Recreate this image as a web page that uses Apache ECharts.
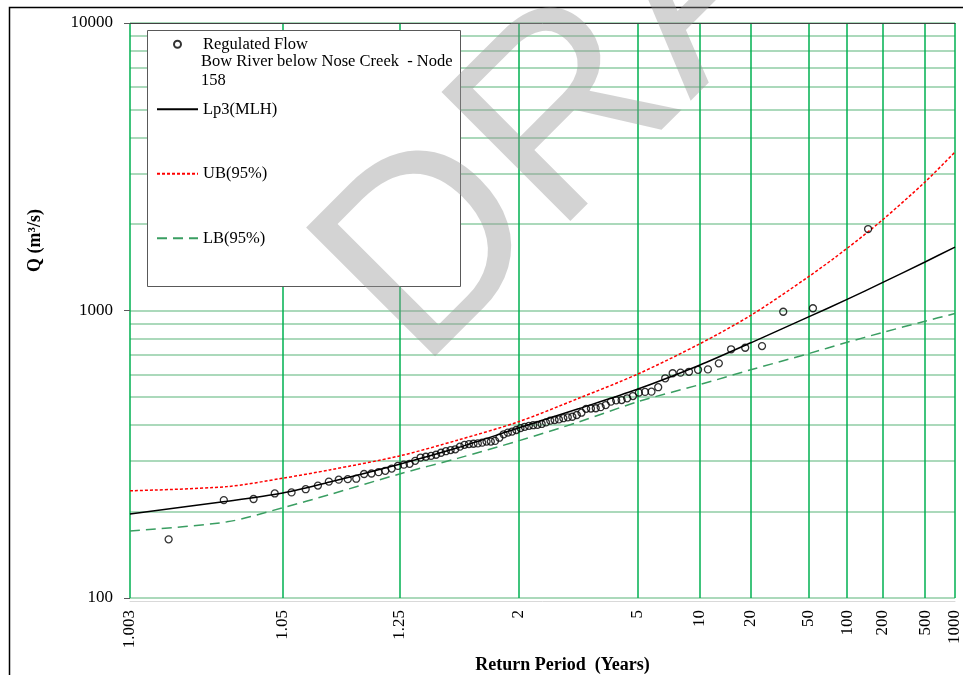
<!DOCTYPE html>
<html><head><meta charset="utf-8">
<script src="https://cdn.jsdelivr.net/npm/echarts@6/dist/echarts.min.js"></script>
<style>html,body{margin:0;padding:0;background:#fff}#chart{width:963px;height:675px}</style>
</head><body><div id="chart"></div>
<script>
// ---- data ----
const xTickPeriods = [1.003, 1.05, 1.25, 2, 5, 10, 20, 50, 100, 200, 500, 1000];
const xTickLabels = ['1.003', '1.05', '1.25', '2', '5', '10', '20', '50', '100', '200', '500', '1000'];
const yLabelValues = [100, 1000, 10000];
const yGridValues = [100, 200, 300, 400, 500, 600, 700, 800, 900, 1000, 2000, 3000, 4000, 5000, 6000, 7000, 8000, 9000, 10000];

// observed regulated flow: return period (years) and discharge (m3/s)
const flowT = [150.21, 53.923, 32.859, 23.629, 18.447, 15.129, 12.823, 11.127, 9.827, 8.799,
  7.966, 7.277, 6.697, 6.204, 5.777, 5.406, 5.080, 4.790, 4.532, 4.301,
  4.091, 3.902, 3.729, 3.570, 3.425, 3.291, 3.167, 3.052, 2.945, 2.846,
  2.753, 2.665, 2.584, 2.507, 2.434, 2.366, 2.301, 2.240, 2.182, 2.126,
  2.074, 2.024, 1.9765, 1.9311, 1.8878, 1.8464, 1.8067, 1.7687, 1.7323, 1.6973,
  1.6638, 1.6315, 1.6005, 1.5706, 1.5418, 1.5140, 1.4873, 1.4614, 1.4365, 1.4124,
  1.3890, 1.3665, 1.3446, 1.3235, 1.3030, 1.2831, 1.2638, 1.2451, 1.2270, 1.2093,
  1.1922, 1.1755, 1.1593, 1.1436, 1.1282, 1.1133, 1.0988, 1.0846, 1.0708, 1.0573,
  1.0442, 1.0314, 1.0189, 1.0067];
const flowQ = [1920, 1018, 990, 752, 742, 733, 655, 624, 622, 612,
  608, 605, 581, 541, 522, 521, 518, 504, 495, 488,
  487, 482, 469, 461, 457, 456, 455, 441, 433, 427,
  425, 422, 418, 416, 414, 408, 403, 400, 399, 397,
  394, 390, 384, 379, 376, 371, 361, 352, 350, 350,
  347, 345, 344, 343, 341, 336, 329, 327, 324, 320,
  315, 312, 310, 308, 300, 293, 291, 288, 282, 277,
  274, 271, 270, 260, 259, 258, 254, 246, 239, 233,
  231, 221, 219, 160];

// fitted curves
const curveT = [1.003, 1.02, 1.05, 1.1, 1.25, 1.5, 2, 3, 5, 10, 20, 50, 100, 200, 500, 1000];
const lp3Q = [196, 217, 232, 253, 292, 333, 390, 456, 532, 645, 772, 950, 1093, 1250, 1475, 1662];
const ubQ  = [236, 244, 261, 279, 312, 354, 410, 496, 600, 765, 962, 1311, 1645, 2064, 2800, 3558];
const lbQ  = [171, 184, 206, 229, 270, 306, 352, 410, 481, 552, 622, 708, 775, 838, 918, 976];

// ---- normal probability scale for return period ----
function normInv(p) {
  const a = [-3.969683028665376e+01, 2.209460984245205e+02, -2.759285104469687e+02, 1.383577518672690e+02, -3.066479806614716e+01, 2.506628277459239e+00];
  const b = [-5.447609879822406e+01, 1.615858368580409e+02, -1.556989798598866e+02, 6.680131188771972e+01, -1.328068155288572e+01];
  const c = [-7.784894002430293e-03, -3.223964580411365e-01, -2.400758277161838e+00, -2.549732539343734e+00, 4.374664141464968e+00, 2.938163982698783e+00];
  const d = [7.784695709041462e-03, 3.224671290700398e-01, 2.445134137142996e+00, 3.754408661907416e+00];
  const pl = 0.02425, ph = 1 - pl;
  let q, r;
  if (p < pl) {
    q = Math.sqrt(-2 * Math.log(p));
    return (((((c[0]*q+c[1])*q+c[2])*q+c[3])*q+c[4])*q+c[5]) / ((((d[0]*q+d[1])*q+d[2])*q+d[3])*q+1);
  }
  if (p <= ph) {
    q = p - 0.5; r = q * q;
    return (((((a[0]*r+a[1])*r+a[2])*r+a[3])*r+a[4])*r+a[5])*q / (((((b[0]*r+b[1])*r+b[2])*r+b[3])*r+b[4])*r+1);
  }
  q = Math.sqrt(-2 * Math.log(1 - p));
  return -(((((c[0]*q+c[1])*q+c[2])*q+c[3])*q+c[4])*q+c[5]) / ((((d[0]*q+d[1])*q+d[2])*q+d[3])*q+1);
}
const zOfT = T => normInv(1 - 1 / T);
const xTickZ = xTickPeriods.map(zOfT);
const zMin = xTickZ[0], zMax = xTickZ[xTickZ.length - 1];
function xLabel(v) {
  let best = 0;
  for (let i = 1; i < xTickZ.length; i++) if (Math.abs(xTickZ[i] - v) < Math.abs(xTickZ[best] - v)) best = i;
  return xTickLabels[best];
}

const SERIF = '"Liberation Serif", "Times New Roman", serif';
const chart = echarts.init(document.getElementById('chart'), null, { renderer: 'canvas' });
chart.setOption({
  animation: false,
  backgroundColor: '#fff',
  grid: { left: 130, right: 8, top: 23, bottom: 77, containLabel: false, outerBoundsMode: 'none' },
  xAxis: [{
    type: 'value', min: zMin, max: zMax, position: 'bottom', offset: 3,
    axisLine: { show: true, onZero: false, lineStyle: { color: '#d9d9d9', width: 1 } },
    axisTick: { show: false, customValues: xTickZ },
    axisLabel: { customValues: xTickZ, rotate: 90, margin: 9, formatter: xLabel, fontFamily: SERIF, fontSize: 17, color: '#000' },
    splitLine: { show: true, lineStyle: { color: '#00b050', width: 1.5 } },
    name: 'Return Period  (Years)', nameLocation: 'middle', nameGap: 52,
    nameTextStyle: { fontFamily: SERIF, fontSize: 18, fontWeight: 'bold', color: '#000', padding: [0, 0, 0, 40] }
  }, {
    type: 'value', min: zMin, max: zMax, position: 'top',
    axisLine: { show: true, onZero: false, lineStyle: { color: '#404040', width: 1 } },
    axisTick: { show: false }, axisLabel: { show: false }, splitLine: { show: false }
  }],
  yAxis: [{
    type: 'log', logBase: 10, min: 100, max: 10000,
    axisLine: { show: false, onZero: false },
    axisTick: { show: false, customValues: yGridValues },
    axisLabel: { show: false },
    splitLine: { show: true, lineStyle: { color: '#8fcca4', width: 1.5 } }
  }, {
    type: 'log', logBase: 10, min: 100, max: 10000, position: 'left',
    axisLine: { show: false, onZero: false },
    axisTick: { show: true, length: 6, customValues: yLabelValues, lineStyle: { color: '#595959', width: 1 } },
    axisLabel: { customValues: yLabelValues, margin: 17, fontFamily: SERIF, fontSize: 17, color: '#000', formatter: v => String(Math.round(v)) },
    splitLine: { show: false },
    name: 'Q (m³/s)', nameLocation: 'middle', nameGap: 86, nameRotate: 90,
    nameTextStyle: { fontFamily: SERIF, fontSize: 18, fontWeight: 'bold', color: '#000', padding: [0, 0, 0, 140] }
  }],
  legend: [{
    data: ['Regulated Flow'], orient: 'vertical', left: 173, top: 35.75, padding: 0,
    itemWidth: 41, itemHeight: 7, itemGap: 0, selectedMode: false, z: 20,
    textStyle: { fontFamily: SERIF, fontSize: 16.5, color: '#000' }
  }, {
    data: ['Lp3(MLH)', 'UB(95%)', 'LB(95%)'], orient: 'vertical', left: 156, top: 100.75, padding: 0,
    itemWidth: 41, itemHeight: 14, itemGap: 47.5, selectedMode: false, z: 20,
    itemStyle: { opacity: 0, color: 'rgba(0,0,0,0)', borderWidth: 0 },
    textStyle: { fontFamily: SERIF, fontSize: 16.5, color: '#000' }
  }],
  graphic: [
    { type: 'rect', silent: true, z: 0, shape: { x: 9.5, y: 7.5, width: 1000, height: 700 }, style: { fill: 'none', stroke: '#000', lineWidth: 1.5 } },
    { type: 'rect', silent: true, z: 10, shape: { x: 147.5, y: 30.5, width: 313, height: 256 }, style: { fill: '#fff', stroke: '#595959', lineWidth: 1 } },
    { type: 'text', silent: true, z: 21, x: 201, y: 62, style: { text: 'Bow River below Nose Creek  - Node', font: '16.5px ' + SERIF, fill: '#000', verticalAlign: 'middle' } },
    { type: 'text', silent: true, z: 21, x: 201, y: 81, style: { text: '158', font: '16.5px ' + SERIF, fill: '#000', verticalAlign: 'middle' } },
    { type: 'text', silent: true, z: 100, x: 368, y: 320, rotation: Math.PI / 4,
      style: { text: 'DRAFT', font: '265px "Liberation Sans", Arial, sans-serif', fill: 'rgba(150,150,150,0.42)', align: 'left', verticalAlign: 'middle' } }
  ],
  series: [{
    name: 'Regulated Flow', type: 'scatter', xAxisIndex: 0, yAxisIndex: 0, z: 5,
    data: flowT.map((t, i) => [zOfT(t), flowQ[i]]),
    symbol: 'circle', symbolSize: 7,
    itemStyle: { color: 'rgba(255,255,255,0)', borderColor: '#000', borderWidth: 1.3 }
  }, {
    name: 'Lp3(MLH)', type: 'line', xAxisIndex: 0, yAxisIndex: 0, smooth: 0.3, showSymbol: false, symbol: 'none', z: 3,
    data: curveT.map((t, i) => [zOfT(t), lp3Q[i]]),
    itemStyle: { color: '#000' }, lineStyle: { color: '#000', width: 1.5 }
  }, {
    name: 'UB(95%)', type: 'line', xAxisIndex: 0, yAxisIndex: 0, smooth: 0.3, showSymbol: false, symbol: 'none', z: 3,
    data: curveT.map((t, i) => [zOfT(t), ubQ[i]]),
    itemStyle: { color: '#ff0000' }, lineStyle: { color: '#ff0000', width: 1.5, type: [3, 2] }
  }, {
    name: 'LB(95%)', type: 'line', xAxisIndex: 0, yAxisIndex: 0, smooth: 0.3, showSymbol: false, symbol: 'none', z: 3,
    data: curveT.map((t, i) => [zOfT(t), lbQ[i]]),
    itemStyle: { color: '#3a9e62' }, lineStyle: { color: '#3a9e62', width: 1.5, type: [10, 6] }
  }]
});
</script>
</body></html>
